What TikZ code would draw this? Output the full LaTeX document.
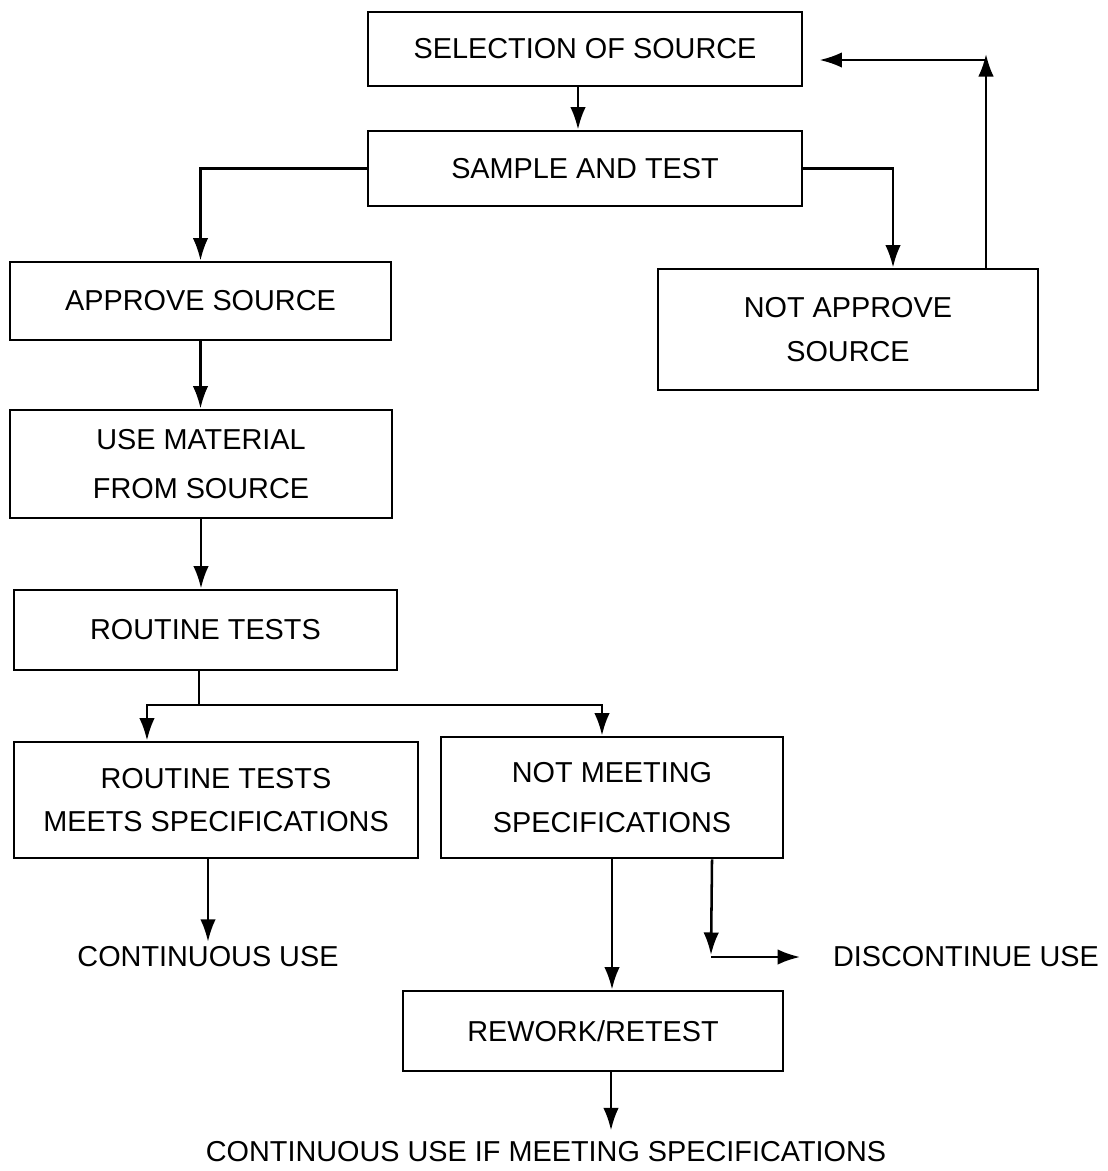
\documentclass[tikz,border=0pt]{standalone}
\usepackage{fontspec}
\setmainfont{Liberation Sans}
\usetikzlibrary{arrows.meta}
\tikzset{
  box/.style={draw, line width=2pt, align=center, font=\fontsize{20.5}{31}\selectfont},
  txt/.style={font=\fontsize{20.5}{31}\selectfont},
  line/.style={line width=1.8pt},
  arr/.style={line, -{Latex[length=16pt,width=11pt]}},
}
\begin{document}
\begin{tikzpicture}[x=0.025cm,y=-0.025cm]
  \useasboundingbox (0,0) rectangle (1108,1171);
  % boxes
  \node[box, minimum width=10.85cm, minimum height=1.85cm] (sel) at (585,49) {SELECTION OF SOURCE};
  \node[box, minimum width=10.85cm, minimum height=1.875cm] (sample) at (585,168.5) {SAMPLE AND TEST};
  \node[box, minimum width=9.525cm, minimum height=1.95cm] (approve) at (200.5,301) {APPROVE SOURCE};
  \node[box, minimum width=9.5cm, minimum height=3.025cm] (notapp) at (848,329.5) {NOT APPROVE\\SOURCE};
  \node[box, minimum width=9.55cm, minimum height=2.7cm] (use) at (201,464) {USE MATERIAL\\[4pt]FROM SOURCE};
  \node[box, minimum width=9.575cm, minimum height=2cm] (routine) at (205.5,630) {ROUTINE TESTS};
  \node[box, minimum width=10.1cm, minimum height=2.9cm] (meets) at (216,800) {ROUTINE TESTS\\MEETS SPECIFICATIONS};
  \node[box, minimum width=8.55cm, minimum height=3.025cm] (notmeet) at (612,797.5) {NOT MEETING\\[4pt]SPECIFICATIONS};
  \node[box, minimum width=9.5cm, minimum height=2cm] (rework) at (593,1031) {REWORK/RETEST};
  % outcomes
  \node[txt] (cont) at (208,957) {CONTINUOUS USE};
  \node[txt] (disc) at (966,957) {DISCONTINUE USE};
  \node[txt] (final) at (546,1152) {CONTINUOUS USE IF MEETING SPECIFICATIONS};
  \coordinate (back) at (986,60);
  \coordinate (split) at (199,705);
  \coordinate (corner) at (711,957);
  % connectors
  \draw[arr] ([xshift=-0.175cm]sel.south) -- ([xshift=-0.175cm]sample.north);
  \draw[arr] (sample.west) -| (approve.north);
  \draw[arr] (sample.east) -| ([xshift=1.125cm]notapp.north);
  \draw[arr] (notapp.north -| back) -- ([yshift=0.15cm]back);
  \draw[arr] (back) -- ([xshift=0.4cm]sel.east |- back);
  \draw[arr] (approve.south) -- (approve.south |- use.north);
  \draw[arr] (use.south) -- (use.south |- routine.north);
  \draw[line] (routine.south -| split) -- (split);
  \draw[arr] (split) -| ([xshift=-1.725cm]meets.north);
  \draw[arr] (split) -| ([xshift=-0.25cm]notmeet.north);
  \draw[arr] (meets.south -| cont) -- (cont);
  \draw[arr] (notmeet.south) -- (notmeet.south |- rework.north);
  \draw[arr] ([xshift=2.5cm]notmeet.south) -- ([yshift=0.05cm]corner);
  \draw[arr] (corner) -- ([xshift=-0.7cm]disc.west);
  \draw[arr] ([xshift=0.45cm]rework.south) -- +(0,58);
\end{tikzpicture}
\end{document}
